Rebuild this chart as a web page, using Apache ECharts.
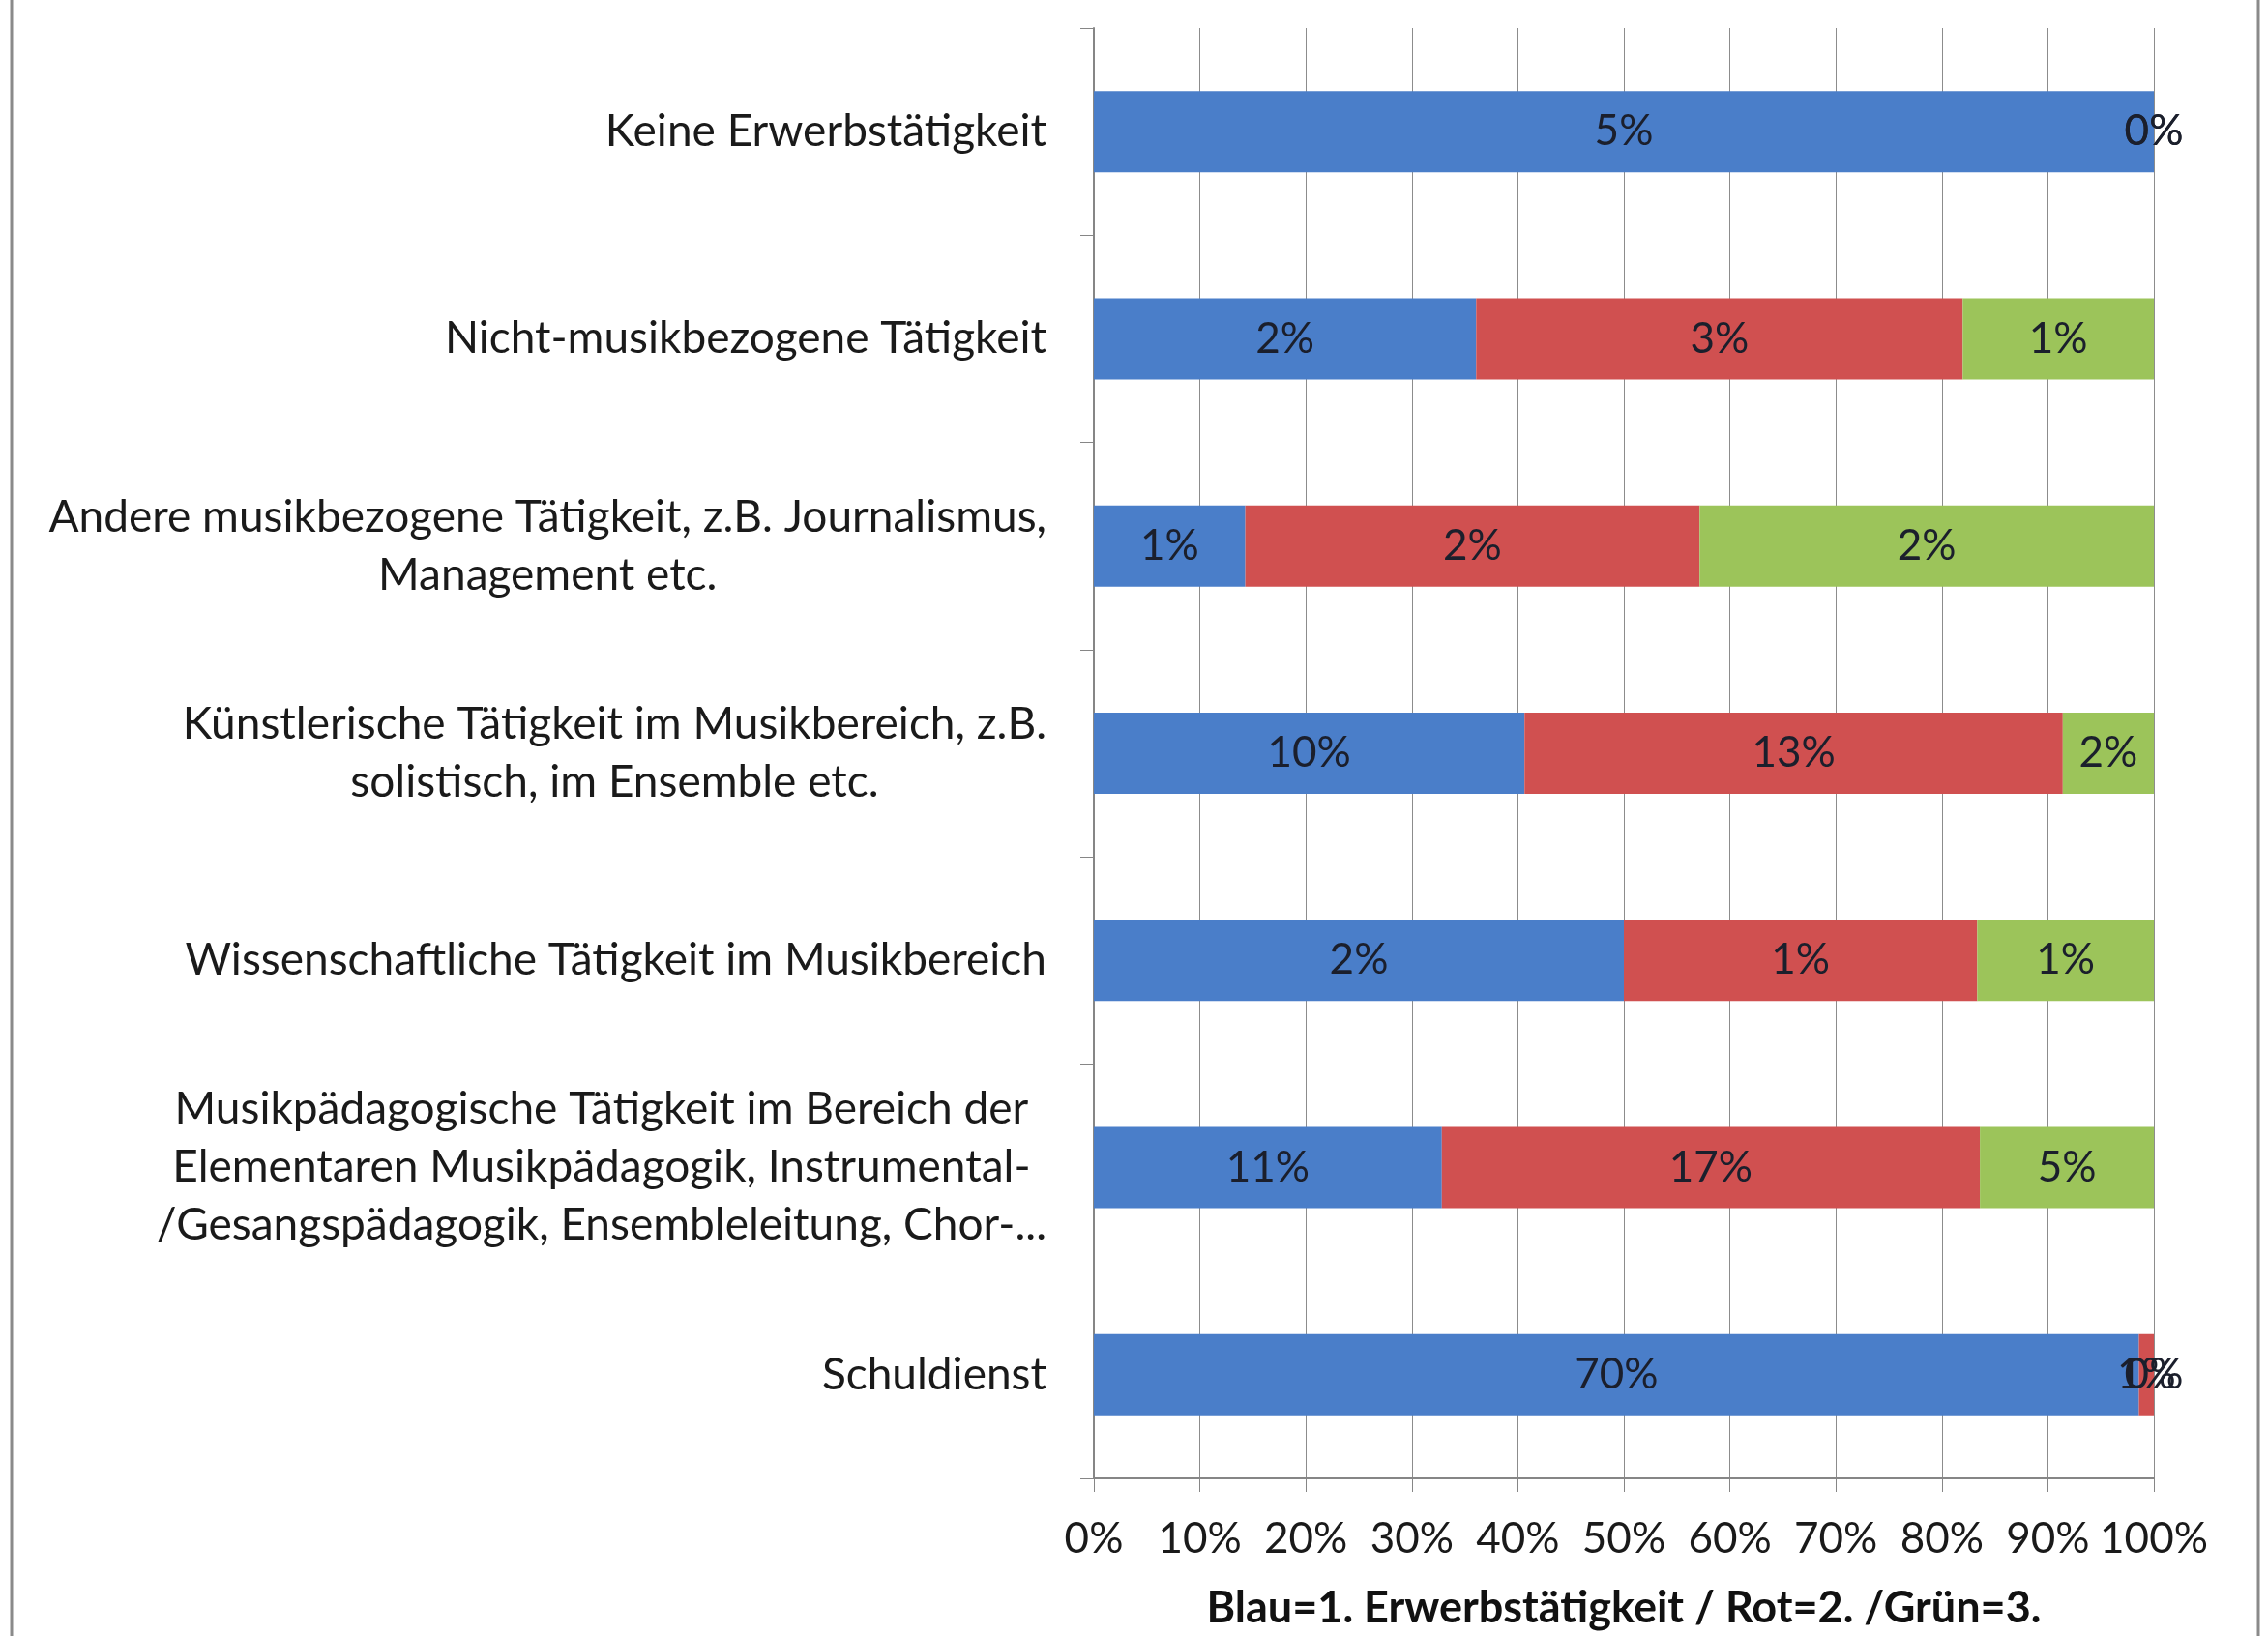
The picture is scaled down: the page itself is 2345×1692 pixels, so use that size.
<!DOCTYPE html>
<html>
<head>
<meta charset="utf-8">
<script src="https://cdn.jsdelivr.net/npm/echarts@6/dist/echarts.min.js"></script>
<style>
html,body{margin:0;padding:0;background:#fff;}
#chart{width:2345px;height:1692px;}
</style>
</head>
<body>
<div id="chart"></div>
<script>
// Categories (top to bottom, as displayed)
const categories = [
  "Keine Erwerbstätigkeit",
  "Nicht-musikbezogene Tätigkeit",
  "Andere musikbezogene Tätigkeit, z.B. Journalismus,\nManagement etc.",
  "Künstlerische Tätigkeit im Musikbereich, z.B.\nsolistisch, im Ensemble etc.",
  "Wissenschaftliche Tätigkeit im Musikbereich",
  "Musikpädagogische Tätigkeit im Bereich der\nElementaren Musikpädagogik, Instrumental-\n/Gesangspädagogik, Ensembleleitung, Chor-...",
  "Schuldienst"
];
// Share of respondents (%) per activity
const erwerb1 = [5, 2.2, 0.6, 10.4, 1.5, 10.8, 70];   // Blau = 1. Erwerbstätigkeit
const erwerb2 = [0, 2.8, 1.8, 13.0, 1.0, 16.7, 1];    // Rot = 2.
const erwerb3 = [0, 1.1, 1.8, 2.2, 0.5, 5.4, 0];      // Grün = 3.
const xTicks = [0, 10, 20, 30, 40, 50, 60, 70, 80, 90, 100];
const axisTitle = "Blau=1. Erwerbstätigkeit / Rot=2. /Grün=3.";

const FONT = 'Lato';
const totals = categories.map((_, i) => erwerb1[i] + erwerb2[i] + erwerb3[i]);
function toItems(arr) {
  return arr.map((v, i) => ({ value: totals[i] ? v / totals[i] * 100 : 0, raw: v }));
}
const labelCfg = {
  show: true,
  position: 'inside',
  fontFamily: FONT,
  fontSize: 44,
  color: '#1b1f2c',
  formatter: p => Math.round(p.data.raw) + '%'
};
function mkSeries(name, arr, color) {
  return {
    name: name,
    type: 'bar',
    stack: 'total',
    barWidth: 84,
    data: toItems(arr),
    itemStyle: { color: color },
    label: labelCfg,
    emphasis: { disabled: true }
  };
}

const chart = echarts.init(document.getElementById('chart'), null, { renderer: 'canvas' });
chart.setOption({
  animation: false,
  backgroundColor: '#ffffff',
  grid: { left: 1131, right: 118, top: 29, bottom: 163, containLabel: false },
  xAxis: {
    type: 'value',
    min: 0, max: 100, interval: 10,
    name: axisTitle,
    nameLocation: 'middle',
    nameGap: 112,
    nameTextStyle: { fontFamily: FONT, fontWeight: 'bold', fontSize: 45, color: '#111' },
    axisLine: { show: true, lineStyle: { color: '#868686', width: 2 } },
    axisTick: { show: true, length: 14, lineStyle: { color: '#868686' } },
    splitLine: { show: true, lineStyle: { color: '#8c8c8c', width: 1 } },
    axisLabel: {
      fontFamily: FONT, fontSize: 44, color: '#1a1a1a', margin: 41,
      formatter: v => xTicks.indexOf(v) >= 0 ? v + '%' : ''
    }
  },
  yAxis: {
    type: 'category',
    inverse: true,
    data: categories,
    axisLine: { show: true, lineStyle: { color: '#868686', width: 2 } },
    axisTick: { show: true, length: 14, lineStyle: { color: '#868686' } },
    splitLine: { show: false },
    axisLabel: {
      margin: 49,
      align: 'right',
      fontFamily: FONT, fontSize: 46, color: '#1a1a1a', lineHeight: 60,
      formatter: v => v.split('\n').map(s => '{c|' + s + '}').join('\n'),
      rich: {
        c: { align: 'center', fontFamily: FONT, fontSize: 46, color: '#1a1a1a', lineHeight: 60 }
      }
    }
  },
  series: [
    mkSeries('1. Erwerbstätigkeit', erwerb1, '#4a7ec9'),
    mkSeries('2.', erwerb2, '#d05050'),
    mkSeries('3.', erwerb3, '#9cc45a')
  ],
  graphic: [
    { type: 'line', shape: { x1: 12, y1: 0, x2: 12, y2: 1692 }, style: { stroke: '#8a8a8a', lineWidth: 3 } },
    { type: 'line', shape: { x1: 2335, y1: 0, x2: 2335, y2: 1692 }, style: { stroke: '#8a8a8a', lineWidth: 3 } }
  ]
});
</script>
</body>
</html>
